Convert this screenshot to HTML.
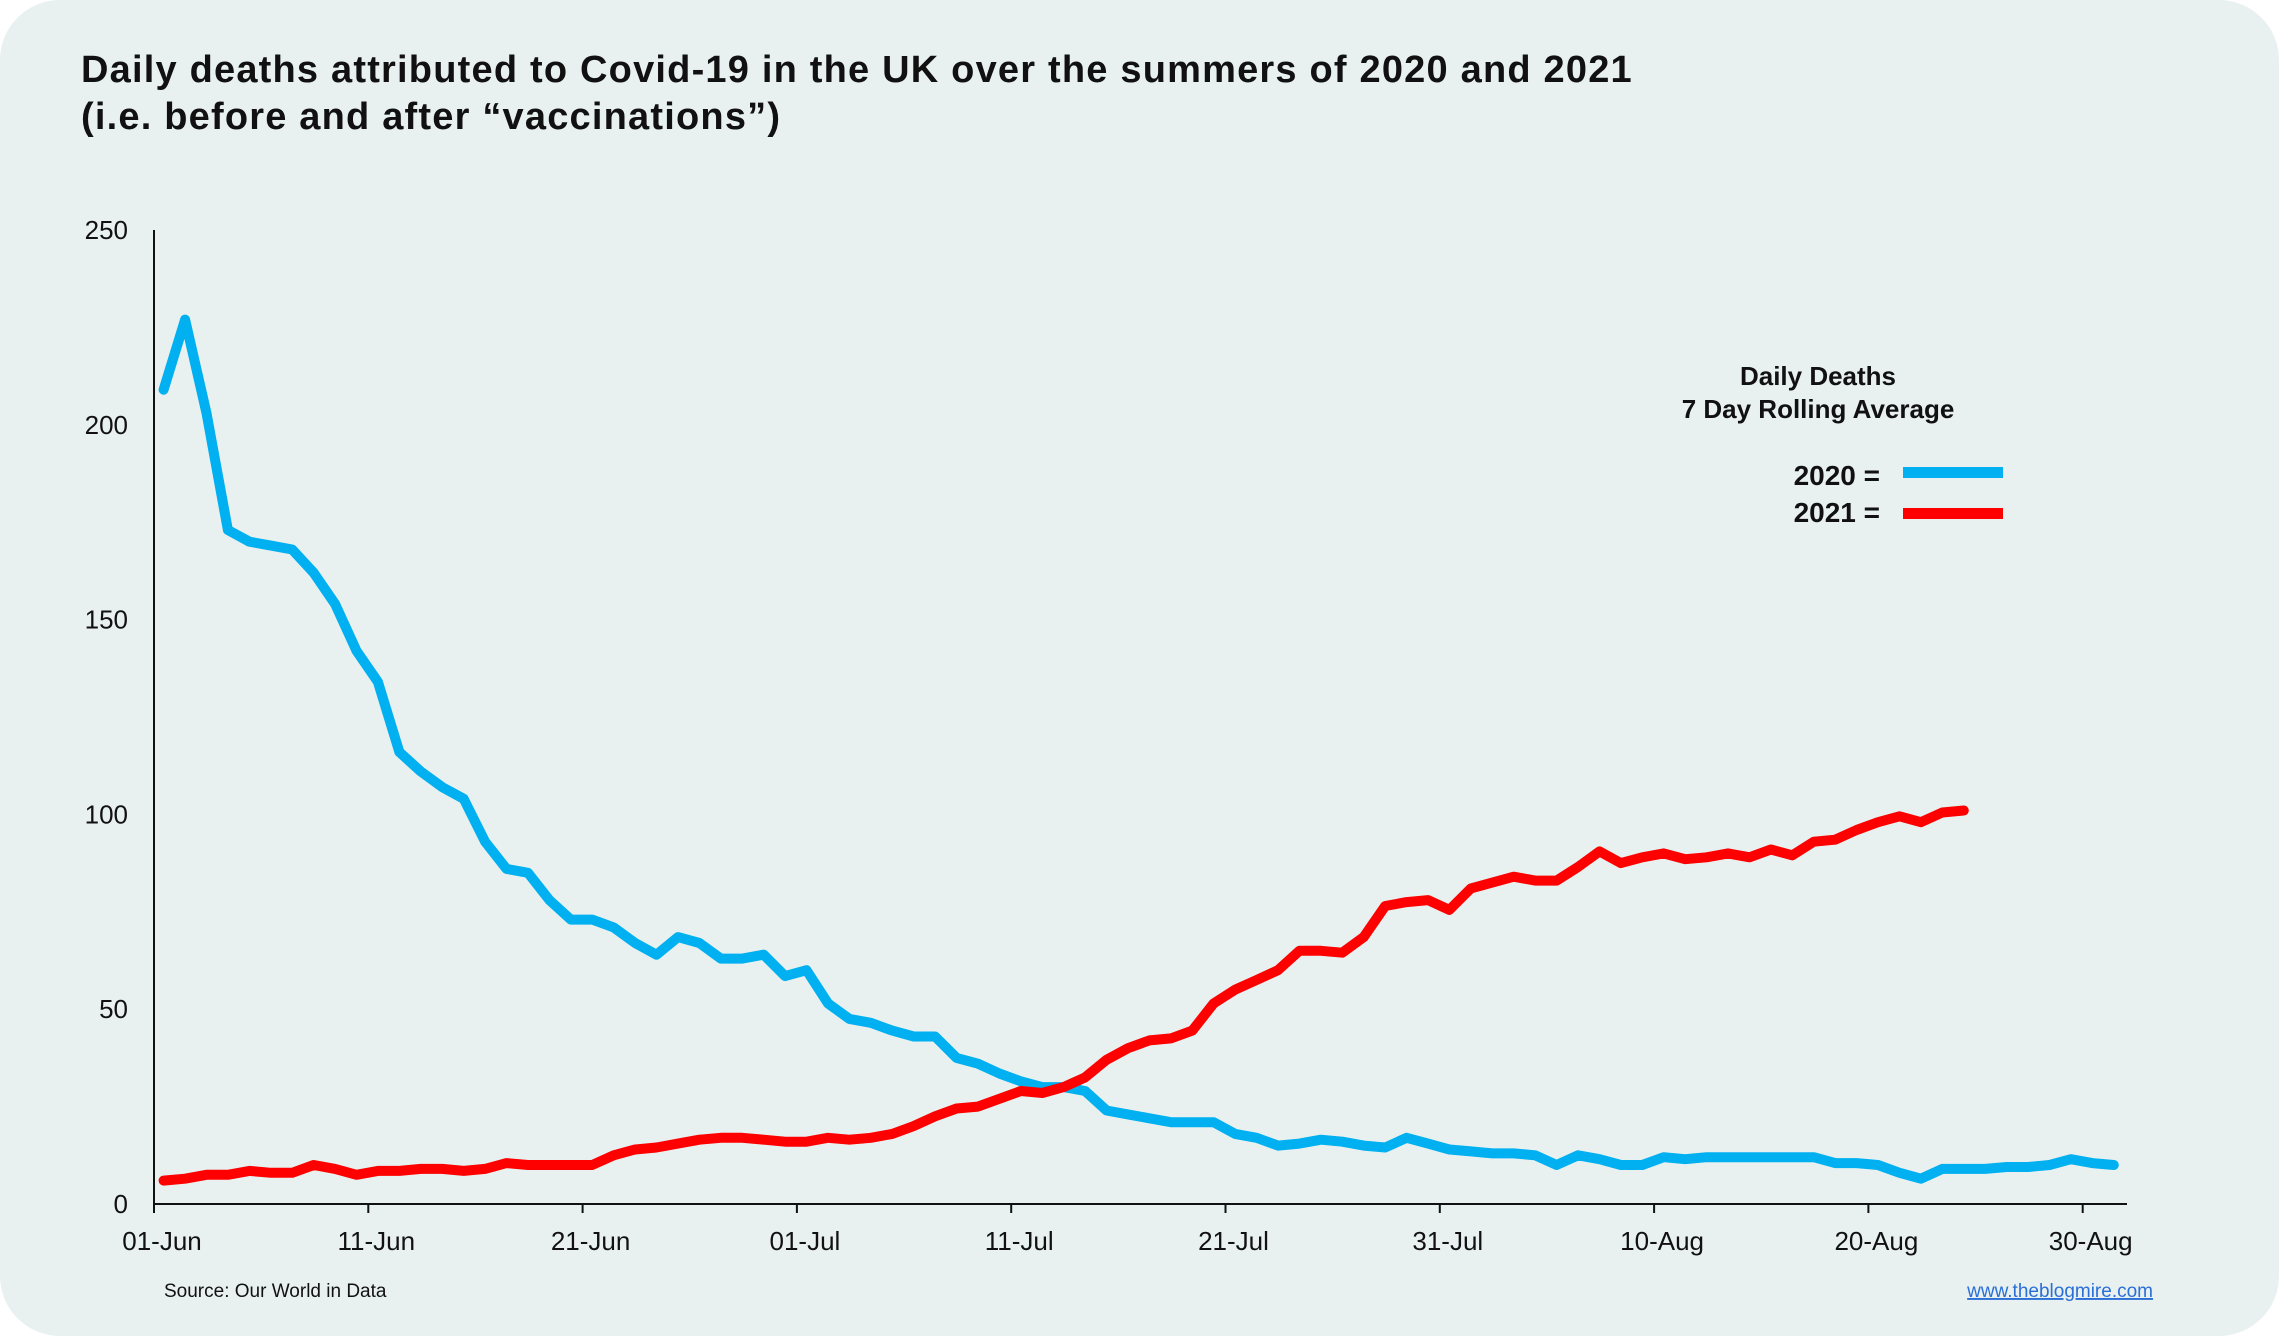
<!DOCTYPE html>
<html><head><meta charset="utf-8"><style>
html,body{margin:0;padding:0;background:#fff;}
body{width:2279px;height:1336px;overflow:hidden;position:relative;font-family:"Liberation Sans",sans-serif;}
#card{position:absolute;left:0;top:0;width:2279px;height:1336px;background:#e9f1f0;border-radius:60px;}
svg{position:absolute;left:0;top:0;}
</style></head><body>
<div id="card"></div>
<svg id="chart" width="2279" height="1336">
<text x="81" y="82" font-size="38" font-weight="bold" letter-spacing="1.2" fill="#111">Daily deaths attributed to Covid-19 in the UK over the summers of 2020 and 2021</text>
<text x="81" y="129" font-size="38" font-weight="bold" letter-spacing="1.2" fill="#111">(i.e. before and after “vaccinations”)</text>
<g id="axes"></g>
<g id="series"></g>
<text x="1818" y="385" font-size="26" font-weight="bold" text-anchor="middle" fill="#111">Daily Deaths</text>
<text x="1818" y="418" font-size="26" font-weight="bold" text-anchor="middle" fill="#111">7 Day Rolling Average</text>
<g><text x="1880" y="485" font-size="28" font-weight="bold" text-anchor="end" fill="#111">2020 =</text><rect x="1903" y="467" width="100" height="11" fill="#00b0f0"/></g>
<g><text x="1880" y="522" font-size="28" font-weight="bold" text-anchor="end" fill="#111">2021 =</text><rect x="1903" y="508" width="100" height="11" fill="#ff0000"/></g>
<text x="164" y="1297" font-size="19" fill="#111">Source: Our World in Data</text>
<text x="2153" y="1297" font-size="19" text-anchor="end" fill="#2a6fd6" text-decoration="underline">www.theblogmire.com</text>
</svg>
<script>
const yTicks=[0,50,100,150,200,250];
const xTickLabels=["01-Jun","11-Jun","21-Jun","01-Jul","11-Jul","21-Jul","31-Jul","10-Aug","20-Aug","30-Aug"];
const xTickDays=[0,10,20,30,40,50,60,70,80,90];
const deaths2020=[209,227,203,173,170,169,168,162,154,142,134,116,111,107,104,93,86,85,78,73,73,71,67,64,68.5,67,63,63,64,58.5,60,51.5,47.5,46.5,44.5,43,43,37.5,36,33.5,31.5,30,30,29,24,23,22,21,21,21,18,17,15,15.5,16.5,16,15,14.5,17,15.5,14,13.5,13,13,12.5,10,12.5,11.5,10,10,12,11.5,12,12,12,12,12,12,10.5,10.5,10,8,6.5,9,9,9,9.5,9.5,10,11.5,10.5,10];
const deaths2021=[6,6.5,7.5,7.5,8.5,8,8,10,9,7.5,8.5,8.5,9,9,8.5,9,10.5,10,10,10,10,12.5,14,14.5,15.5,16.5,17,17,16.5,16,16,17,16.5,17,18,20,22.5,24.5,25,27,29,28.5,30,32.5,37,40,42,42.5,44.5,51.5,55,57.5,60,65,65,64.5,68.5,76.5,77.5,78,75.5,81,82.5,84,83,83,86.5,90.5,87.5,89,90,88.5,89,90,89,91,89.5,93,93.5,96,98,99.5,98,100.5,101];
const X0=154,DX=21.43,Y0=1204,YS=(1204-230)/250;
const xs=d=>X0+d*DX;
const ys=v=>Y0-v*YS;
const NS="http://www.w3.org/2000/svg";
const axes=document.getElementById('axes'),series=document.getElementById('series');
function mk(tag,attrs,parent){const e=document.createElementNS(NS,tag);for(const k in attrs)e.setAttribute(k,attrs[k]);parent.appendChild(e);return e;}
const ya=mk('line',{x1:X0,y1:ys(250),x2:X0,y2:Y0,stroke:'#111','stroke-width':2},axes);


const xa=mk('line',{x1:X0,y1:Y0,x2:2127,y2:Y0,stroke:'#111','stroke-width':2},axes);


yTicks.forEach(v=>{const t=mk('text',{x:128,y:ys(v)+9,'font-size':26,'text-anchor':'end',fill:'#111'},axes);t.textContent=v;

});
xTickLabels.forEach((lab,i)=>{const x=xs(xTickDays[i]);mk('line',{x1:x,y1:Y0,x2:x,y2:Y0+9,stroke:'#111','stroke-width':2},axes);
const t=mk('text',{x:x+8,y:Y0+46,'font-size':26,'text-anchor':'middle',fill:'#111'},axes);t.textContent=lab;

});
function line(data,color){const pts=data.map((v,i)=>xs(i+0.45).toFixed(1)+','+ys(v).toFixed(1)).join(' ');
const p=mk('polyline',{points:pts,fill:'none',stroke:color,'stroke-width':10,'stroke-linejoin':'round','stroke-linecap':'round'},series);
}
line(deaths2020,'#00b0f0');

line(deaths2021,'#ff0000');

</script>
</body></html>
